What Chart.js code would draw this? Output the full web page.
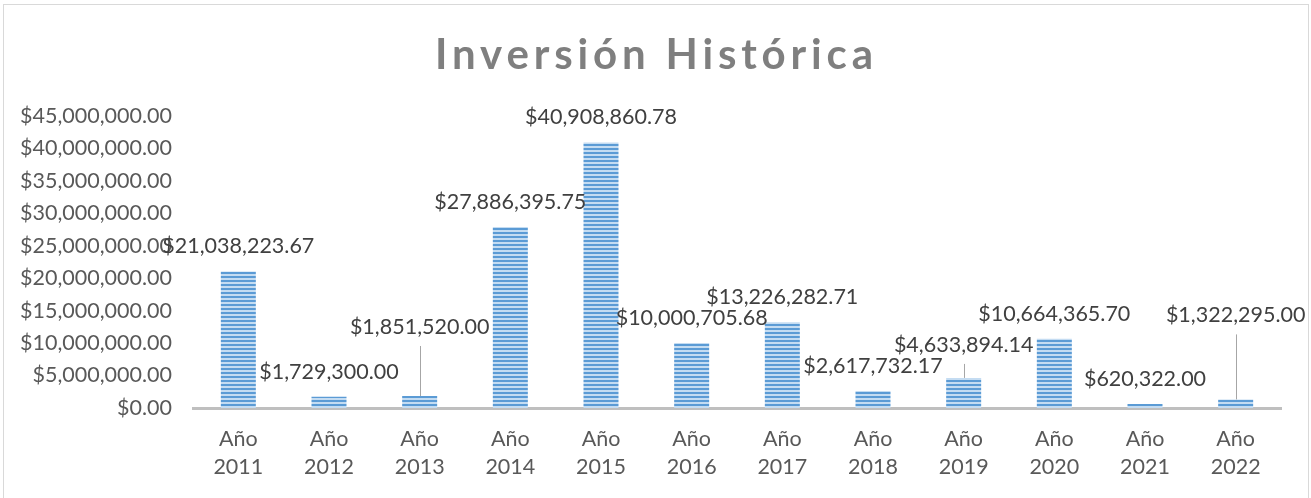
<!DOCTYPE html>
<html lang="es">
<head>
<meta charset="utf-8">
<title>Inversión Histórica</title>
<script src="https://cdn.jsdelivr.net/npm/chart.js@4.4.1/dist/chart.umd.min.js"></script>
<style>
    html, body { margin: 0; padding: 0; background: #ffffff; }
    #wrap { width: 1311px; height: 498px; position: relative; }
</style>
</head>
<body>
<div id="wrap"><canvas id="barChart"></canvas></div>
<script>
const years = ["2011", "2012", "2013", "2014", "2015", "2016",
    "2017", "2018", "2019", "2020", "2021", "2022"];
const investment = [
    21038223.67, 1729300.00, 1851520.00, 27886395.75, 40908860.78, 10000705.68,
    13226282.71, 2617732.17, 4633894.14, 10664365.70, 620322.00, 1322295.00
];
const yTicks = [0, 5000000, 10000000, 15000000, 20000000, 25000000,
    30000000, 35000000, 40000000, 45000000];

// extra lift (px) for labels that Excel moved up and tied with a leader line
const labelLift = [0, 0, 44, 0, 0, 0, 0, 0, 8, 0, 0, 59];

const chartTitle = "Inversión Histórica";
const font = "Lato";
const textSize = 21.5;

function money(v) {
    return "$" + v.toLocaleString("en-US", { minimumFractionDigits: 2, maximumFractionDigits: 2 });
}

function stripePattern() {
    const c = document.createElement("canvas");
    c.width = 4;
    c.height = 4;
    const g = c.getContext("2d");
    g.fillStyle = "#c4dcf2";
    g.fillRect(0, 0, 4, 4);
    g.fillStyle = "#5b9bd5";
    g.fillRect(0, 0, 4, 2);
    return g.createPattern(c, "repeat");
}

const frameAndTitle = {
    id: "frameAndTitle",
    beforeDraw(chart) {
        const ctx = chart.ctx;
        ctx.save();
        ctx.strokeStyle = "#d9d9d9";
        ctx.lineWidth = 1;
        ctx.strokeRect(3.5, 4.5, 1305, 510);

        ctx.font = `bold 42px ${font}`;
        ctx.fillStyle = "#7f7f7f";
        ctx.textBaseline = "alphabetic";
        ctx.textAlign = "left";
        const w = ctx.measureText(chartTitle).width;
        const spacing = Math.max(0, (438 - w) / (chartTitle.length - 1));
        ctx.letterSpacing = spacing + "px";
        ctx.fillText(chartTitle, 435, 69);
        ctx.restore();
    }
};

const valueLabels = {
    id: "valueLabels",
    afterDatasetsDraw(chart) {
        const ctx = chart.ctx;
        const bars = chart.getDatasetMeta(0).data;
        ctx.save();
        ctx.font = `${textSize}px ${font}`;
        ctx.fillStyle = "#404040";
        ctx.textAlign = "center";
        ctx.textBaseline = "middle";
        bars.forEach((bar, i) => {
            const lift = labelLift[i] || 0;
            const ly = bar.y - 25 - lift;
            ctx.fillText(money(investment[i]), bar.x, ly);
            if (lift > 0) {
                ctx.strokeStyle = "#a6a6a6";
                ctx.lineWidth = 1;
                ctx.beginPath();
                ctx.moveTo(Math.round(bar.x) + 0.5, ly + 19);
                ctx.lineTo(Math.round(bar.x) + 0.5, bar.y);
                ctx.stroke();
            }
        });
        ctx.restore();
    }
};

document.addEventListener("DOMContentLoaded", () => {
    const ctx = document.getElementById("barChart").getContext("2d");

    new Chart(ctx, {
        type: "bar",
        data: {
            labels: years.map(y => ["Año", y]),
            datasets: [{
                label: chartTitle,
                data: investment,
                backgroundColor: stripePattern(),
                borderWidth: 0,
                barPercentage: 0.386,
                categoryPercentage: 1
            }]
        },
        options: {
            responsive: true,
            maintainAspectRatio: false,
            animation: false,
            layout: { padding: { top: 116, right: 30, left: 0, bottom: 0 } },
            plugins: {
                legend: { display: false },
                title: { display: false },
                tooltip: { enabled: false }
            },
            scales: {
                x: {
                    grid: { display: false, drawTicks: false },
                    border: { display: true, color: "#bfbfbf", width: 3 },
                    ticks: {
                        color: "#595959",
                        font: { family: font, size: textSize, lineHeight: 1.26 },
                        padding: 18,
                        maxRotation: 0,
                        autoSkip: false
                    },
                    afterFit: s => { s.height = 90; }
                },
                y: {
                    min: 0,
                    max: yTicks[yTicks.length - 1],
                    grid: { display: false, drawTicks: false },
                    border: { display: false },
                    afterBuildTicks: s => { s.ticks = yTicks.map(v => ({ value: v })); },
                    ticks: {
                        color: "#595959",
                        font: { family: font, size: textSize },
                        padding: 21,
                        callback: v => money(v)
                    },
                    afterFit: s => { s.width = 193; }
                }
            }
        },
        plugins: [frameAndTitle, valueLabels]
    });
});
</script>
</body>
</html>
